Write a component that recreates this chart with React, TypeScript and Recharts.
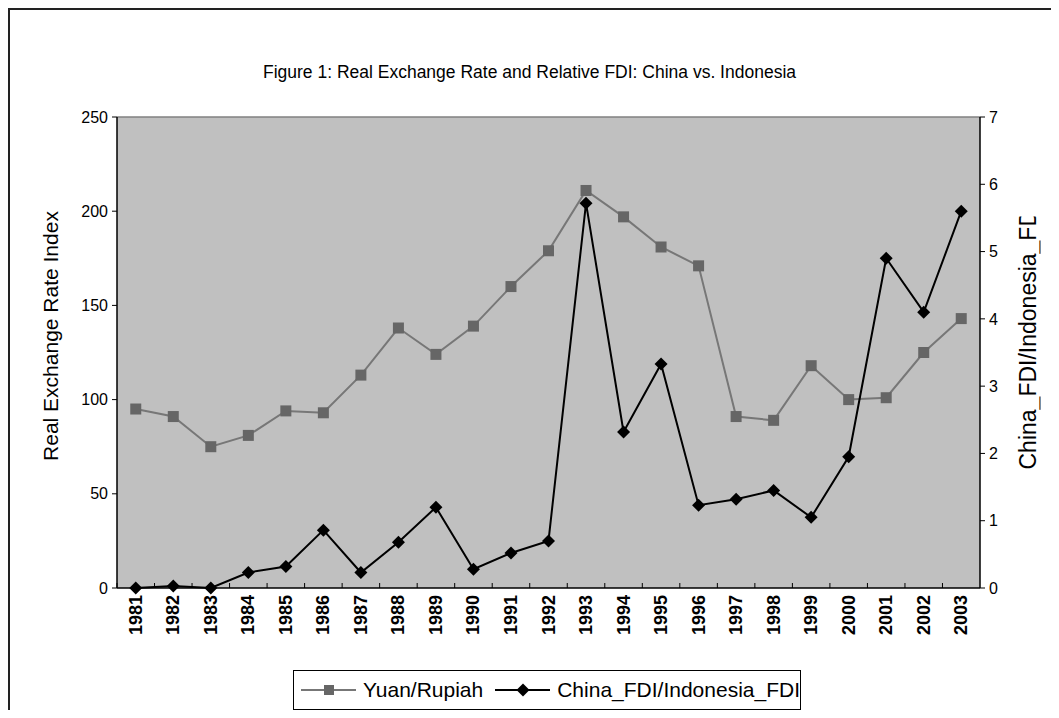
import React from 'react';
import { LineChart, Line, XAxis, YAxis, CartesianGrid, ReferenceLine } from 'recharts';

// years on the category axis
const years = [
    '1981', '1982', '1983', '1984', '1985', '1986', '1987', '1988', '1989', '1990',
    '1991', '1992', '1993', '1994', '1995', '1996', '1997', '1998', '1999', '2000',
    '2001', '2002', '2003',
];

// Yuan/Rupiah real exchange rate index (left axis)
const yuanRupiah = [
    95, 91, 75, 81, 94, 93, 113, 138, 124, 139, 160, 179,
    211, 197, 181, 171, 91, 89, 118, 100, 101, 125, 143,
];

// China FDI / Indonesia FDI (right axis)
const fdiRatio = [
    0, 0.03, 0, 0.23, 0.32, 0.86, 0.23, 0.68, 1.2, 0.28, 0.52, 0.7,
    5.72, 2.32, 3.33, 1.23, 1.32, 1.45, 1.05, 1.95, 4.9, 4.1, 5.6,
];

const leftTicks = [0, 50, 100, 150, 200, 250];
const rightTicks = [0, 1, 2, 3, 4, 5, 6, 7];

const data = years.map((year, i) => ({
    year,
    yuan: yuanRupiah[i],
    fdi: fdiRatio[i],
}));

const CHART_W = 1049;
const CHART_H = 700;
const MARGIN = { top: 107, right: 19, left: 47, bottom: 62 };
const AXIS_W = 60;
const PLOT_W = CHART_W - MARGIN.left - MARGIN.right - AXIS_W * 2;
const BAND = PLOT_W / years.length;

const FONT = 'Arial, "Liberation Sans", sans-serif';

// year label plus an Excel-style tick between categories
const YearTick = (props: any) => {
    const { x, y, payload } = props;
    const edge = x - BAND / 2;
    return (
        <g>
            <line x1={edge} x2={edge} y1={y} y2={y - 5} stroke="#000" />
            <text
                x={x}
                y={y + 7}
                transform={`rotate(-90 ${x} ${y + 7})`}
                textAnchor="end"
                dominantBaseline="central"
                fontSize={18}
                fontWeight="bold"
                fontFamily={FONT}
                fill="#000"
            >
                {payload.value}
            </text>
        </g>
    );
};

const SquareDot = (props: any) => {
    const { cx, cy, index } = props;
    if (cx == null || cy == null) return <g key={`s-${index}`} />;
    return <rect key={`s-${index}`} x={cx - 5.5} y={cy - 5.5} width={11} height={11} fill="#666666" />;
};

const DiamondDot = (props: any) => {
    const { cx, cy, index } = props;
    if (cx == null || cy == null) return <g key={`d-${index}`} />;
    const r = 6.5;
    return (
        <polygon
            key={`d-${index}`}
            points={`${cx},${cy - r} ${cx + r},${cy} ${cx},${cy + r} ${cx - r},${cy}`}
            fill="#000"
        />
    );
};

const LegendKey = ({ kind }: { kind: 'square' | 'diamond' }) => (
    <svg width={56} height={16} style={{ display: 'block' }}>
        <line x1={0} x2={56} y1={8} y2={8} stroke={kind === 'square' ? '#777' : '#000'} strokeWidth={2} />
        {kind === 'square' ? (
            <rect x={23} y={3} width={10} height={10} fill="#666666" />
        ) : (
            <polygon points="28,1.5 34.5,8 28,14.5 21.5,8" fill="#000" />
        )}
    </svg>
);

export default function App() {
    return (
        <div
            style={{
                position: 'relative',
                width: CHART_W,
                height: CHART_H,
                borderLeft: '2px solid #222',
                borderTop: '2px solid #222',
                background: '#fff',
                fontFamily: FONT,
            }}
        >
            <div
                style={{
                    position: 'absolute',
                    left: 0,
                    width: 1039,
                    top: 52,
                    textAlign: 'center',
                    fontSize: 17.5,
                    color: '#000',
                }}
            >
                Figure 1: Real Exchange Rate and Relative FDI: China vs. Indonesia
            </div>

            <LineChart width={CHART_W} height={CHART_H} data={data} margin={MARGIN}>
                <CartesianGrid fill="#C0C0C0" horizontal={false} vertical={false} />
                <XAxis
                    dataKey="year"
                    interval={0}
                    height={60}
                    padding={{ left: BAND / 2, right: BAND / 2 }}
                    tickSize={0}
                    tickMargin={0}
                    tickLine={false}
                    axisLine={{ stroke: '#000', strokeWidth: 1.5 }}
                    tick={<YearTick />}
                />
                <YAxis
                    yAxisId="left"
                    width={AXIS_W}
                    domain={[0, 250]}
                    ticks={leftTicks}
                    tickSize={5}
                    tickMargin={4}
                    axisLine={{ stroke: '#000', strokeWidth: 1.5 }}
                    tickLine={{ stroke: '#000' }}
                    tick={{ fill: '#000', fontSize: 16, fontFamily: FONT }}
                />
                <YAxis
                    yAxisId="right"
                    orientation="right"
                    width={AXIS_W}
                    domain={[0, 7]}
                    ticks={rightTicks}
                    tickSize={5}
                    tickMargin={4}
                    axisLine={{ stroke: '#000', strokeWidth: 1.5 }}
                    tickLine={{ stroke: '#000' }}
                    tick={{ fill: '#000', fontSize: 16, fontFamily: FONT }}
                />
                <ReferenceLine yAxisId="left" y={250} stroke="#808080" strokeWidth={1.5} />
                <Line
                    yAxisId="left"
                    dataKey="yuan"
                    type="linear"
                    stroke="#777"
                    strokeWidth={2}
                    dot={SquareDot}
                    activeDot={false}
                    isAnimationActive={false}
                />
                <Line
                    yAxisId="right"
                    dataKey="fdi"
                    type="linear"
                    stroke="#000"
                    strokeWidth={2}
                    dot={DiamondDot}
                    activeDot={false}
                    isAnimationActive={false}
                />
            </LineChart>

            <div
                style={{
                    position: 'absolute',
                    left: 41 - 20,
                    top: 326 - 12,
                    width: 300,
                    height: 24,
                    marginLeft: -130,
                    lineHeight: '24px',
                    textAlign: 'center',
                    fontSize: 21,
                    whiteSpace: 'nowrap',
                    transform: 'rotate(-90deg)',
                    color: '#000',
                }}
            >
                Real Exchange Rate Index
            </div>

            <div
                style={{
                    position: 'absolute',
                    left: 891,
                    top: 320,
                    width: 253,
                    height: 26,
                    lineHeight: '26px',
                    overflow: 'hidden',
                    fontSize: 23,
                    whiteSpace: 'nowrap',
                    transform: 'rotate(-90deg)',
                    color: '#000',
                }}
            >
                China_FDI/Indonesia_FDI
            </div>

            <div
                style={{
                    position: 'absolute',
                    left: 283,
                    top: 660,
                    width: 508,
                    height: 40,
                    boxSizing: 'border-box',
                    border: '1px solid #000',
                    display: 'flex',
                    alignItems: 'center',
                    paddingLeft: 7,
                    fontSize: 21,
                    color: '#000',
                    whiteSpace: 'nowrap',
                }}
            >
                <LegendKey kind="square" />
                <span style={{ marginLeft: 7, marginRight: 12 }}>Yuan/Rupiah</span>
                <LegendKey kind="diamond" />
                <span style={{ marginLeft: 7 }}>China_FDI/Indonesia_FDI</span>
            </div>
        </div>
    );
}
